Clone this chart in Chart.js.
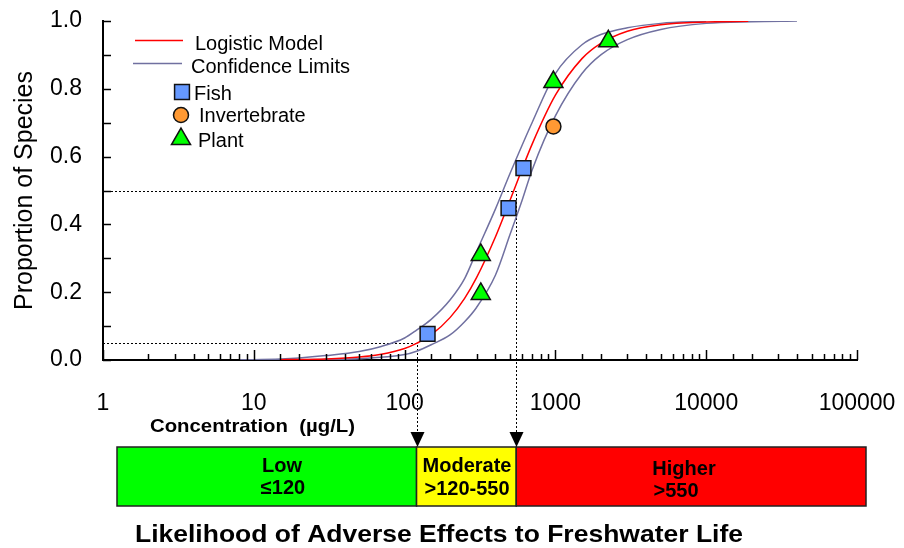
<!DOCTYPE html>
<html>
<head>
<meta charset="utf-8">
<script src="https://cdn.jsdelivr.net/npm/chart.js@4.4.0/dist/chart.umd.min.js"></script>
<style>
html, body { margin: 0; padding: 0; background: #fff; }
#wrap { width: 904px; height: 548px; }
</style>
</head>
<body>
<div id="wrap"><canvas id="ssdChart" width="904" height="548"></canvas></div>
<script>
// species sensitivity points (concentration in ug/L, proportion of species)
const fishConc = [142, 489, 614];
const fishProp = [0.077, 0.448, 0.566];
const invertConc = [970];
const invertProp = [0.689];
const plantConc = [320, 320, 970, 2244];
const plantProp = [0.31, 0.195, 0.82, 0.94];

// fitted logistic model
const modelConc = [15, 20, 30, 50, 70, 100, 120, 150, 200, 250, 300, 400, 500, 700, 1000, 1500, 2000, 3000, 5000, 10000, 19000];
const modelProp = [0.001, 0.0014, 0.0032, 0.0088, 0.017, 0.034, 0.049, 0.074, 0.125, 0.182, 0.243, 0.363, 0.471, 0.636, 0.781, 0.889, 0.934, 0.970, 0.989, 0.997, 0.999];

// confidence limits
const upperConc = [8, 15, 20, 30, 50, 70, 100, 120, 150, 200, 250, 300, 400, 500, 700, 1000, 1500, 2000, 3000, 5000, 10000];
const upperProp = [0, 0.003, 0.006, 0.013, 0.025, 0.04, 0.065, 0.088, 0.12, 0.177, 0.24, 0.32, 0.445, 0.55, 0.70, 0.845, 0.93, 0.96, 0.98, 0.993, 0.999];
const lowerConc = [8, 20, 50, 100, 120, 150, 200, 250, 300, 400, 500, 600, 700, 1000, 1500, 2000, 3000, 5000, 10000, 20000, 40000];
const lowerProp = [0, 0.001, 0.004, 0.016, 0.026, 0.045, 0.074, 0.113, 0.155, 0.25, 0.37, 0.47, 0.56, 0.72, 0.845, 0.90, 0.945, 0.975, 0.993, 0.998, 1.0];

// guideline thresholds and bands
const thresholdConc = [120, 550];
const thresholdProp = [0.05, 0.5];
const bandNames = ['Low', 'Moderate', 'Higher'];
const bandRanges = ['≤120', '>120-550', '>550'];
const bandColors = ['#00FF00', '#FFFF00', '#FF0000'];

const xTickLabels = ['1', '10', '100', '1000', '10000', '100000'];

const FONT = "'Liberation Sans', Arial, sans-serif";

function toXY(xs, ys) {
    return xs.map((x, i) => ({x: x, y: ys[i]}));
}

function isDecade(v) {
    const l = Math.log10(v);
    return Math.abs(l - Math.round(l)) < 1e-9;
}

function fitText(c, text, x, y, width) {
    const w = c.measureText(text).width;
    c.save();
    c.translate(x, y);
    c.scale(width / w, 1);
    c.fillText(text, 0, 0);
    c.restore();
}

const overlay = {
    id: 'overlay',
    beforeDatasetsDraw(chart) {
        const c = chart.ctx;
        const xs = chart.scales.x, ys = chart.scales.y;
        const left = chart.chartArea.left;
        c.save();
        c.strokeStyle = '#000';
        c.lineWidth = 1;
        c.setLineDash([2, 2]);
        thresholdConc.forEach((conc, i) => {
            const px = Math.round(xs.getPixelForValue(conc)) + 0.5;
            const py = Math.round(ys.getPixelForValue(thresholdProp[i])) + 0.5;
            c.beginPath();
            c.moveTo(left, py);
            c.lineTo(px, py);
            c.lineTo(px, 433);
            c.stroke();
        });
        c.restore();
    },
    afterDraw(chart) {
        const c = chart.ctx;
        const xs = chart.scales.x, ys = chart.scales.y;
        const area = chart.chartArea;
        c.save();

        // tick marks pointing into the plot
        c.strokeStyle = '#000';
        c.lineWidth = 1.5;
        xs.ticks.forEach(t => {
            const px = Math.round(xs.getPixelForValue(t.value)) + 0.5;
            const len = isDecade(t.value) ? 10 : 6;
            c.beginPath();
            c.moveTo(px, area.bottom);
            c.lineTo(px, area.bottom - len);
            c.stroke();
        });
        ys.ticks.forEach(t => {
            const py = Math.round(ys.getPixelForValue(t.value)) + 0.5;
            c.beginPath();
            c.moveTo(area.left, py);
            c.lineTo(area.left + 8, py);
            c.stroke();
        });

        // coloured band of adverse effect likelihood
        const top = 447, bottom = 506;
        const edges = [117, xs.getPixelForValue(thresholdConc[0]), xs.getPixelForValue(thresholdConc[1]), 866];
        c.lineWidth = 1.5;
        c.strokeStyle = '#222';
        for (let i = 0; i < 3; i++) {
            c.fillStyle = bandColors[i];
            c.fillRect(edges[i], top, edges[i + 1] - edges[i], bottom - top);
            c.strokeRect(edges[i], top, edges[i + 1] - edges[i], bottom - top);
        }

        // arrows down to the band
        c.fillStyle = '#000';
        thresholdConc.forEach(conc => {
            const px = Math.round(xs.getPixelForValue(conc)) + 0.5;
            c.beginPath();
            c.moveTo(px - 7, 432);
            c.lineTo(px + 7, 432);
            c.lineTo(px, top);
            c.closePath();
            c.fill();
        });

        // band labels
        c.font = 'bold 20px ' + FONT;
        c.textAlign = 'center';
        c.textBaseline = 'alphabetic';
        const nameX = [282, 467, 684];
        const nameY = [472, 472, 475];
        const rangeX = [283, 467, 676];
        const rangeY = [494, 495, 497];
        for (let i = 0; i < 3; i++) {
            c.fillText(bandNames[i], nameX[i], nameY[i]);
            c.fillText(bandRanges[i], rangeX[i], rangeY[i]);
        }

        // axis caption and bottom title
        c.textAlign = 'left';
        c.font = 'bold 19px ' + FONT;
        fitText(c, 'Concentration  (µg/L)', 150, 432, 205);
        c.font = 'bold 24px ' + FONT;
        fitText(c, 'Likelihood of Adverse Effects to Freshwater Life', 135, 542, 608);

        // legend
        c.font = '20px ' + FONT;
        c.lineWidth = 1.5;
        c.strokeStyle = '#FF0000';
        c.beginPath(); c.moveTo(135, 40.5); c.lineTo(183, 40.5); c.stroke();
        c.strokeStyle = '#7070A0';
        c.beginPath(); c.moveTo(133, 63.5); c.lineTo(182, 63.5); c.stroke();
        c.fillStyle = '#000';
        c.fillText('Logistic Model', 195, 50);
        c.fillText('Confidence Limits', 191, 73);
        const sets = chart.data.datasets;
        const legendPts = [[182, 92, 0, 'Fish', 194, 100], [181, 115, 1, 'Invertebrate', 199, 122], [181, 139, 2, 'Plant', 198, 147]];
        legendPts.forEach(p => {
            const ds = sets[p[2]];
            c.fillStyle = ds.backgroundColor;
            c.strokeStyle = ds.borderColor;
            c.lineWidth = ds.borderWidth;
            Chart.helpers.drawPoint(c, {pointStyle: ds.pointStyle, radius: ds.pointRadius, borderWidth: ds.borderWidth, rotation: 0}, p[0], p[1]);
            c.fillStyle = '#000';
            c.fillText(p[3], p[4], p[5]);
        });
        c.restore();
    }
};

function zeroPadding(scale) {
    scale.paddingLeft = 0;
    scale.paddingRight = 0;
    scale.paddingTop = 0;
    scale.paddingBottom = 0;
}

const ssdChart = new Chart(document.getElementById('ssdChart').getContext('2d'), {
    type: 'scatter',
    data: {
        datasets: [
            {
                label: 'Fish',
                data: toXY(fishConc, fishProp),
                pointStyle: 'rect',
                pointRadius: 10.5,
                backgroundColor: '#6699FF',
                borderColor: '#111',
                borderWidth: 1.5,
                order: 0
            },
            {
                label: 'Invertebrate',
                data: toXY(invertConc, invertProp),
                pointStyle: 'circle',
                pointRadius: 7.5,
                backgroundColor: '#FF9933',
                borderColor: '#111',
                borderWidth: 1.5,
                order: 0
            },
            {
                label: 'Plant',
                data: toXY(plantConc, plantProp),
                pointStyle: 'triangle',
                pointRadius: 11,
                backgroundColor: '#00FF00',
                borderColor: '#111',
                borderWidth: 1.5,
                order: 0
            },
            {
                label: 'Logistic Model',
                data: toXY(modelConc, modelProp),
                showLine: true,
                pointRadius: 0,
                borderColor: '#FF0000',
                borderWidth: 1.5,
                cubicInterpolationMode: 'monotone',
                order: 1
            },
            {
                label: 'Confidence Limits',
                data: toXY(upperConc, upperProp),
                showLine: true,
                pointRadius: 0,
                borderColor: '#7070A0',
                borderWidth: 1.5,
                cubicInterpolationMode: 'monotone',
                order: 2
            },
            {
                label: 'Confidence Limits (lower)',
                data: toXY(lowerConc, lowerProp),
                showLine: true,
                pointRadius: 0,
                borderColor: '#7070A0',
                borderWidth: 1.5,
                cubicInterpolationMode: 'monotone',
                order: 2
            }
        ]
    },
    options: {
        responsive: false,
        animation: false,
        layout: {padding: {left: 0, top: 21, right: 47, bottom: 0}},
        plugins: {
            legend: {display: false},
            tooltip: {enabled: false}
        },
        scales: {
            x: {
                type: 'logarithmic',
                min: 1,
                max: 100000,
                grid: {display: false, drawTicks: false},
                border: {display: true, color: '#000', width: 2},
                ticks: {
                    autoSkip: false,
                    maxRotation: 0,
                    padding: 30,
                    color: '#000',
                    font: {family: FONT, size: 23},
                    callback: v => (isDecade(v) && xTickLabels.includes(String(Math.round(v)))) ? String(Math.round(v)) : ''
                },
                afterFit: s => { s.height = 188; zeroPadding(s); }
            },
            y: {
                min: 0,
                max: 1,
                grid: {display: false, drawTicks: false},
                border: {display: true, color: '#000', width: 2},
                ticks: {
                    stepSize: 0.1,
                    padding: 21,
                    color: '#000',
                    font: {family: FONT, size: 23},
                    callback: v => Math.round(v * 10) % 2 === 0 ? v.toFixed(1) : ''
                },
                title: {
                    display: true,
                    text: 'Proportion of Species',
                    color: '#000',
                    font: {family: FONT, size: 25},
                    padding: {top: 10, bottom: 0}
                },
                afterFit: s => { s.width = 103; zeroPadding(s); }
            }
        }
    },
    plugins: [overlay]
});
</script>
</body>
</html>
